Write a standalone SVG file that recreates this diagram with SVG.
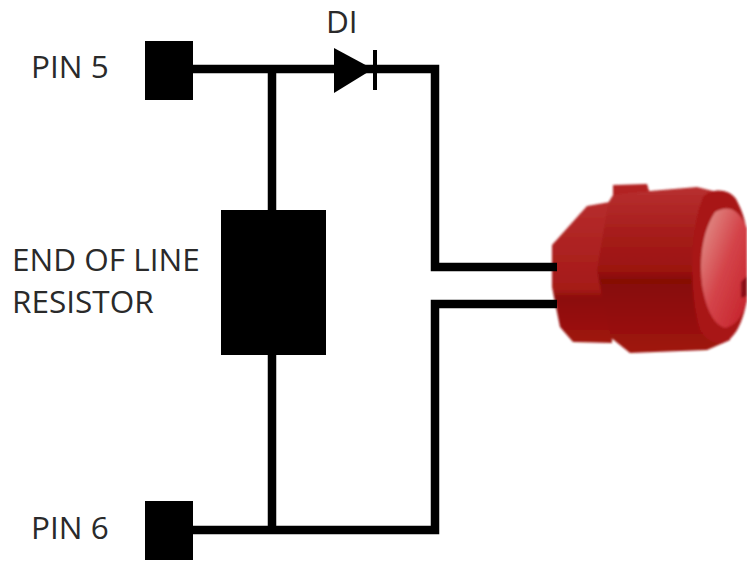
<svg xmlns="http://www.w3.org/2000/svg" width="747" height="561" viewBox="0 0 747 561">
<defs>
<style>
.w{fill:none;stroke:#000;stroke-width:8.5;stroke-linejoin:miter}
.t{font-family:"Open Sans","Noto Sans",sans-serif;font-size:31.5px;fill:#2a2a2a}
</style>
<linearGradient id="body" x1="0" y1="0" x2="0" y2="1">
<stop offset="0" stop-color="#b83030"/><stop offset=".3" stop-color="#a51c1a"/><stop offset=".5" stop-color="#9c1410"/><stop offset=".56" stop-color="#860806"/><stop offset="1" stop-color="#a01512"/>
</linearGradient>
<linearGradient id="back" x1="0" y1="0" x2="0" y2="1">
<stop offset="0" stop-color="#b62c2c"/><stop offset=".62" stop-color="#a51a18"/><stop offset=".68" stop-color="#8c0c0a"/><stop offset="1" stop-color="#a01410"/>
</linearGradient>
<linearGradient id="lens" x1="0" y1="0" x2="1" y2="1">
<stop offset="0" stop-color="#e49a92"/><stop offset=".5" stop-color="#d4444a"/><stop offset="1" stop-color="#c41f28"/>
</linearGradient>
<filter id="soft" x="-5%" y="-5%" width="110%" height="110%"><feGaussianBlur stdDeviation="1.2"/></filter>
</defs>
<g id="sounder" filter="url(#soft)">
<path d="M552 245L587 206L610 202L612 343L573 342L560 327L552 287Z" fill="url(#back)"/>
<path d="M613 185L647 184L650 194L613 198Z" fill="#b22020"/>
<path d="M608 203L613 195L650 191L697 187L717 192L730 340L707 350L630 353L610 337L597 270Z" fill="url(#body)"/>
<path d="M703 197C712 188 728 188 736 199C743 212 747 225 747 240V300C742 325 735 337 725 342C716 345 708 342 700 330C690 300 688 235 703 197Z" fill="#a81214"/>
<path d="M715 212C728 205 738 208 747 228V300C742 318 735 326 725 328C714 325 706 310 702 285C699 260 702 232 715 212Z" fill="url(#lens)"/>
<path d="M741 282L747 276V296L741 298Z" fill="#8c0c18"/>
</g>
<g id="connectors">
<path class="w" d="M190 69H435V267H557"/>
<path class="w" d="M190 530H435V304H557"/>
<path class="w" d="M272 69V210"/>
<path class="w" d="M272 354V530"/>
</g>
<g id="pin5"><rect x="145" y="41" width="48" height="59" fill="#000"/><text class="t" x="31" y="78">PIN 5</text></g>
<g id="pin6"><rect x="145" y="501" width="48" height="59" fill="#000"/><text class="t" x="31" y="539">PIN 6</text></g>
<g id="resistor"><rect x="221" y="210" width="105" height="145" fill="#000"/><text class="t" x="12" y="271">END OF LINE</text><text class="t" x="12" y="313">RESISTOR</text></g>
<g id="diode"><path d="M334 48L373 69L334 93Z" fill="#000"/><rect x="373" y="50" width="4" height="40" fill="#000"/><text class="t" x="326" y="33">DI</text></g>
</svg>
